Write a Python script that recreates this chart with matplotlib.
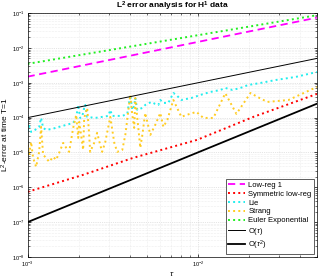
import matplotlib
matplotlib.use("Agg")
import matplotlib.pyplot as plt
from matplotlib.ticker import NullFormatter

plt.rcParams['font.family'] = ['Liberation Sans', 'DejaVu Sans']
plt.rcParams['mathtext.fontset'] = 'custom'
plt.rcParams['mathtext.rm'] = 'Liberation Sans'
plt.rcParams['mathtext.it'] = 'Liberation Sans:italic'
plt.rcParams['mathtext.bf'] = 'Liberation Sans:bold'

# smooth curves
tau_line = [1.0e-3, 5.0e-2]
lowreg = [1.5e-3, 7.4e-2]
euler = [3.5e-3, 8.7e-2]
order1 = [1.0e-4, 5.0e-3]
order2 = [1.0e-7, 2.5e-4]

tau_sym = [1.0e-3, 2.12e-3, 4.17e-3, 9.9e-3, 2.12e-2, 5.0e-2]
sym_lowreg = [7.4e-7, 2.28e-6, 7.0e-6, 2.3e-5, 1.05e-4, 4.78e-4]

# Lie splitting (noisy)
tau_lie = [1.0e-3, 1.02e-3, 1.048e-3, 1.107e-3, 1.169e-3, 1.20e-3, 1.234e-3,
           1.285e-3, 1.393e-3, 1.532e-3, 1.685e-3, 1.852e-3, 1.929e-3,
           1.982e-3, 2.036e-3, 2.09e-3, 2.15e-3, 2.18e-3, 2.24e-3, 2.49e-3,
           2.74e-3, 2.98e-3, 3.06e-3, 3.14e-3, 3.60e-3, 3.85e-3, 4.01e-3,
           4.12e-3, 4.23e-3, 4.29e-3, 4.41e-3, 4.72e-3, 4.91e-3, 5.33e-3,
           5.62e-3, 5.86e-3, 6.02e-3, 6.27e-3, 6.71e-3, 7.18e-3, 7.47e-3,
           8.00e-3, 9.16e-3, 1.034e-2, 1.184e-2, 1.356e-2, 1.451e-2,
           1.596e-2, 1.778e-2, 1.98e-2, 2.33e-2, 2.86e-2, 3.75e-2, 5.0e-2]
lie = [4.16e-5, 5.78e-5, 3.89e-5, 4.45e-5, 5.42e-5, 9.8e-5, 5.07e-5,
       4.45e-5, 4.74e-5, 5.42e-5, 6.18e-5, 7.05e-5, 9.8e-5,
       2.31e-4, 9.8e-5, 1.05e-4, 1.90e-4, 2.31e-4, 1.05e-4, 9.8e-5,
       1.05e-4, 1.12e-4, 1.66e-4, 1.12e-4, 1.12e-4, 1.28e-4, 4.47e-4,
       1.66e-4, 2.16e-4, 3.66e-4, 1.66e-4, 1.90e-4, 2.31e-4, 2.82e-4,
       2.47e-4, 2.31e-4, 3.21e-4, 2.64e-4, 2.64e-4, 5.10e-4, 4.47e-4,
       3.21e-4, 3.66e-4, 4.47e-4, 5.45e-4, 6.22e-4, 7.10e-4,
       6.22e-4, 7.10e-4, 8.65e-4, 9.87e-4, 1.20e-3, 1.47e-3, 2.04e-3]

# Strang splitting (noisy)
tau_strang = [1.0e-3, 1.02e-3, 1.048e-3, 1.077e-3, 1.122e-3, 1.169e-3,
              1.20e-3, 1.234e-3, 1.285e-3, 1.338e-3, 1.413e-3, 1.471e-3,
              1.532e-3, 1.618e-3, 1.685e-3, 1.754e-3, 1.852e-3, 1.929e-3,
              1.982e-3, 2.01e-3, 2.12e-3, 2.15e-3, 2.24e-3, 2.30e-3, 2.33e-3,
              2.46e-3, 2.56e-3, 2.67e-3, 2.74e-3, 2.86e-3, 3.06e-3, 3.23e-3,
              3.36e-3, 3.60e-3, 3.75e-3, 4.01e-3, 4.12e-3, 4.23e-3, 4.29e-3,
              4.47e-3, 4.59e-3, 4.72e-3, 4.91e-3, 5.26e-3, 5.62e-3, 6.02e-3,
              6.27e-3, 6.62e-3, 7.18e-3, 8.00e-3, 8.56e-3, 9.80e-3, 1.078e-2,
              1.234e-2, 1.45e-2, 1.685e-2, 2.04e-2, 2.24e-2, 2.56e-2,
              3.41e-2, 5.0e-2]
strang = [1.65e-5, 8.5e-6, 2.01e-5, 7.0e-6, 3.86e-6, 1.04e-5,
          5.42e-5, 8.5e-6, 7.0e-6, 5.38e-6, 7.48e-6, 6.14e-6,
          9.74e-6, 1.88e-5, 1.36e-5, 1.04e-5, 5.07e-5, 1.19e-4,
          2.62e-5, 7.53e-5, 1.19e-5, 9.8e-5, 1.90e-4, 3.19e-5, 1.04e-5,
          1.88e-5, 3.65e-5, 1.65e-5, 1.04e-5, 2.01e-5, 1.05e-4, 1.88e-5,
          1.04e-5, 1.19e-5, 3.19e-5, 4.47e-4, 1.19e-4, 5.07e-5, 3.66e-4,
          5.07e-5, 1.36e-5, 3.19e-5, 1.36e-4, 3.19e-5, 6.18e-5, 1.36e-4,
          5.42e-5, 8.6e-5, 3.21e-4, 1.05e-4, 1.19e-4, 1.46e-4, 9.8e-5,
          9.8e-5, 5.0e-4, 1.28e-4, 5.10e-4, 3.92e-4, 2.82e-4,
          3.21e-4, 7.58e-4]

fig = plt.figure(figsize=(3.21, 2.79), dpi=100)
ax = fig.add_axes([0.086, 0.079, 0.901, 0.874])

ax.loglog(tau_line, lowreg, '--', color='#ff00ff', lw=1.3, dashes=(4, 2.5), label='Low-reg 1')
ax.loglog(tau_sym, sym_lowreg, ':', color='#ff0000', lw=1.4, label='Symmetric low-reg')
ax.loglog(tau_lie, lie, ':', color='#22eeee', lw=1.4, label='Lie')
ax.loglog(tau_strang, strang, ':', color='#ffcc22', lw=1.4, label='Strang')
ax.loglog(tau_line, euler, ':', color='#22ee22', lw=1.4, label='Euler Exponential')
ax.loglog(tau_line, order1, '-', color='black', lw=0.7, label=r'O($\tau$)')
ax.loglog(tau_line, order2, '-', color='black', lw=1.3, label=r'O($\tau^2$)')

ax.set_xlim(1e-3, 5e-2)
ax.set_ylim(1e-8, 1e-1)
ax.xaxis.set_minor_formatter(NullFormatter())
ax.yaxis.set_minor_formatter(NullFormatter())
ax.set_title(r'L$^\mathbf{2}$ error analysis for H$^\mathbf{1}$ data', fontsize=6, fontweight='bold', pad=2)
ax.set_xlabel(r'$\tau$', fontsize=6, labelpad=1)
ax.set_ylabel('L$^2$-error at time T=1', fontsize=6, labelpad=1)

ax.grid(True, which='major', color='#cccccc', lw=0.5, ls=':')
ax.grid(True, which='minor', color='#dddddd', lw=0.4, ls=':')
ax.tick_params(which='both', direction='in', top=True, right=True, labelsize=4, pad=2)
ax.tick_params(which='major', length=2.5, width=0.5)
ax.tick_params(which='minor', length=1.3, width=0.4)
for s in ax.spines.values():
    s.set_linewidth(0.5)

leg = ax.legend(loc='lower right', fontsize=5.5, handlelength=2.2, labelspacing=0.2,
                borderpad=0.3, handletextpad=0.4, fancybox=False, framealpha=1,
                edgecolor='#444444', borderaxespad=0.4)
leg.get_frame().set_linewidth(0.6)

fig.savefig('out.png', dpi=100)
